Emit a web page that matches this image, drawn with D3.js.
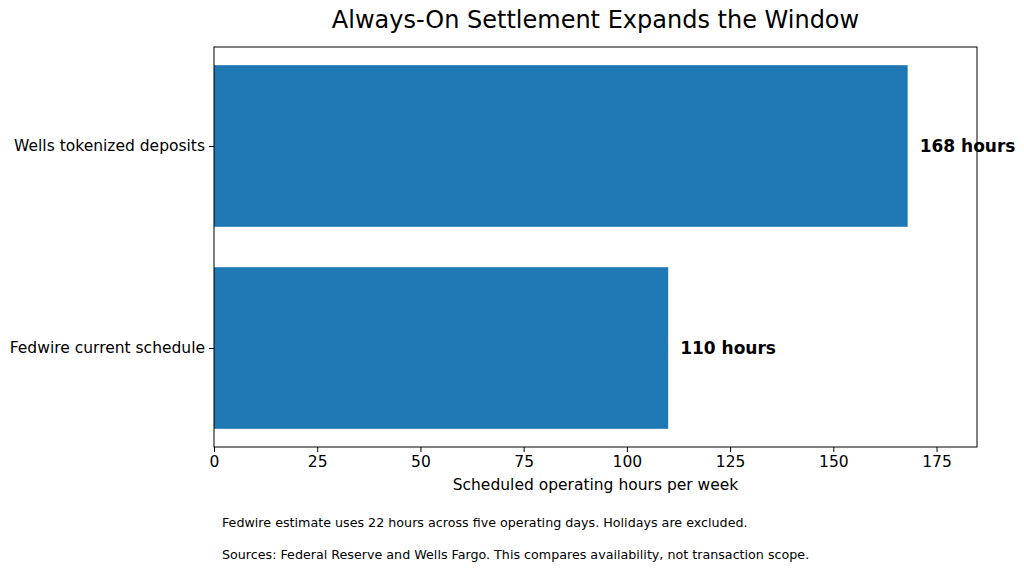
<!DOCTYPE html>
<html lang="en">
<head>
    <meta charset="UTF-8">
    <title>Always-On Settlement Expands the Window</title>
    <style>
        body { margin: 0; background: #fff; }
        svg { font-family: "DejaVu Sans", sans-serif; display: block; }
    </style>
</head>
<body>
    <div id="chart"></div>
    <script src="https://d3js.org/d3.v7.min.js"></script>
    <script>
        const categories = ['Wells tokenized deposits', 'Fedwire current schedule'];
        const hours = [168, 110];
        const xTicks = [0, 25, 50, 75, 100, 125, 150, 175];
        const notes = [
            'Fedwire estimate uses 22 hours across five operating days. Holidays are excluded.',
            'Sources: Federal Reserve and Wells Fargo. This compares availability, not transaction scope.'
        ];

        const w = 1024;
        const h = 572;
        const plotL = 214, plotR = 977, plotT = 47, plotB = 447;

        const svg = d3.select('#chart')
            .append('svg')
            .attr('width', w)
            .attr('height', h);

        // matplotlib-ish: xlim = max*1.1
        const xScale = d3.scaleLinear()
            .domain([0, d3.max(hours) * 1.1])
            .range([plotL, plotR]);

        // categories sit at 0 and 1 with 0.8 high bars
        const yScale = d3.scaleLinear()
            .domain([-0.49, 1.49])
            .range([plotT, plotB]);
        const barH = yScale(0.8) - yScale(0);

        svg.selectAll('rect.bar')
            .data(hours)
            .enter()
            .append('rect')
            .attr('class', 'bar')
            .attr('x', xScale(0))
            .attr('y', (d, i) => yScale(i) - barH / 2)
            .attr('width', d => xScale(d) - xScale(0))
            .attr('height', barH)
            .attr('fill', '#1f77b4');

        svg.selectAll('text.val')
            .data(hours)
            .enter()
            .append('text')
            .attr('class', 'val')
            .attr('x', d => xScale(d) + 12)
            .attr('y', (d, i) => yScale(i))
            .attr('dy', '0.35em')
            .attr('font-size', 17)
            .attr('font-weight', 'bold')
            .text(d => `${d} hours`);

        // frame
        svg.append('rect')
            .attr('x', plotL).attr('y', plotT)
            .attr('width', plotR - plotL).attr('height', plotB - plotT)
            .attr('fill', 'none').attr('stroke', '#000').attr('stroke-width', 1);

        const xAxis = d3.axisBottom(xScale).tickValues(xTicks).tickSize(5).tickPadding(4);
        const gx = svg.append('g')
            .attr('transform', `translate(0,${plotB})`)
            .call(xAxis);
        gx.select('.domain').remove();
        gx.selectAll('text').attr('font-size', 15.5).attr('font-family', '"DejaVu Sans", sans-serif').attr('fill', '#000');

        const yAxis = d3.axisLeft(yScale).tickValues([0, 1]).tickFormat(i => categories[i]).tickSize(5).tickPadding(4);
        const gy = svg.append('g')
            .attr('transform', `translate(${plotL},0)`)
            .call(yAxis);
        gy.select('.domain').remove();
        gy.selectAll('text').attr('font-size', 15.5).attr('font-family', '"DejaVu Sans", sans-serif').attr('fill', '#000');

        svg.append('text')
            .attr('x', (plotL + plotR) / 2)
            .attr('y', 28)
            .attr('text-anchor', 'middle')
            .attr('font-size', 24)
            .text('Always-On Settlement Expands the Window');

        svg.append('text')
            .attr('x', (plotL + plotR) / 2)
            .attr('y', 490)
            .attr('text-anchor', 'middle')
            .attr('font-size', 15.5)
            .text('Scheduled operating hours per week');

        svg.selectAll('text.note')
            .data(notes)
            .enter()
            .append('text')
            .attr('class', 'note')
            .attr('x', 222)
            .attr('y', (d, i) => 527 + i * 32)
            .attr('font-size', 12.7)
            .text(d => d);
    </script>
</body>
</html>
